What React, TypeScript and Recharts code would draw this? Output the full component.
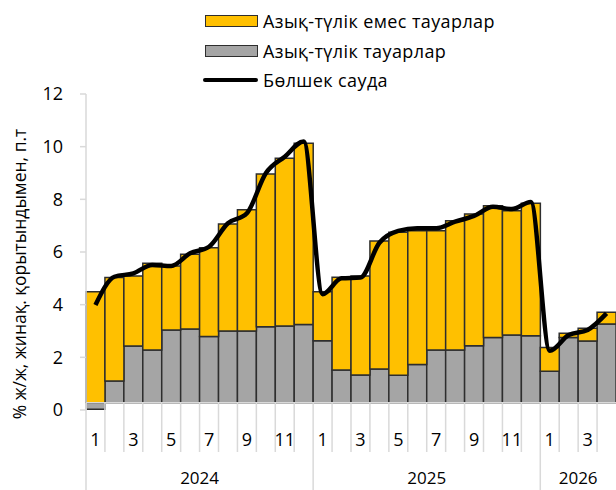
import React from 'react';
import {
  Bar,
  BarChart,
  Line,
  ReferenceLine,
  XAxis,
  YAxis,
} from 'recharts';

const months = [
  1, 2, 3, 4, 5, 6, 7, 8, 9, 10, 11, 12,
  1, 2, 3, 4, 5, 6, 7, 8, 9, 10, 11, 12,
  1, 2, 3, 4,
];
const years = [
  2024, 2024, 2024, 2024, 2024, 2024, 2024, 2024, 2024, 2024, 2024, 2024,
  2025, 2025, 2025, 2025, 2025, 2025, 2025, 2025, 2025, 2025, 2025, 2025,
  2026, 2026, 2026, 2026,
];
// Азық-түлік тауарлар
const food = [
  0.03, 1.1, 2.43, 2.28, 3.04, 3.08, 2.79, 3.0, 3.0, 3.16, 3.19, 3.25,
  2.63, 1.52, 1.33, 1.56, 1.32, 1.73, 2.28, 2.28, 2.44, 2.75, 2.85, 2.82,
  1.47, 2.75, 2.62, 3.27,
];
// Азық-түлік емес тауарлар
const nonFood = [
  4.46, 3.93, 2.66, 3.29, 2.43, 2.83, 3.37, 4.06, 4.6, 5.8, 6.37, 6.88,
  1.86, 3.52, 3.76, 4.86, 5.43, 5.08, 4.53, 4.91, 5.0, 5.01, 4.72, 5.03,
  0.9, 0.16, 0.48, 0.44,
];
// Бөлшек сауда
const retail = [
  3.99, 5.06, 5.19, 5.51, 5.47, 5.95, 6.2, 7.09, 7.47, 8.99, 9.62, 10.2,
  4.4, 5.0, 5.03, 6.35, 6.8, 6.9, 6.9, 7.15, 7.37, 7.72, 7.63, 7.9,
  2.25, 2.85, 3.04, 3.67,
];
const yTicks = [0, 2, 4, 6, 8, 10, 12];

// horizontal axis crosses a bit above zero in the source chart
const CROSS = 0.28;

const data = months.map((m, i) => ({
  key: `${years[i]}-${m}`,
  month: m,
  year: years[i],
  foodRange: [CROSS, food[i]],
  nonFoodRange: [Math.max(food[i], CROSS), food[i] + nonFood[i]],
  retail: retail[i],
}));

const W = 616;
const H = 490;
const PLOT_LEFT = 86;
const BAND = (W - PLOT_LEFT) / data.length;
const FONT = '"Open Sans", sans-serif';
const ORANGE = '#FFC000';
const GREY = '#A5A5A5';
const EDGE = '#2E2E2E';
const AXIS = '#D9D9D9';

function MonthTick(props: any) {
  const { x, index } = props;
  const d = data[index];
  if (!d) return null;
  const left = x - BAND / 2;
  const yearStart = index === 0 || data[index - 1].year !== d.year;
  const count = data.filter((p) => p.year === d.year).length;
  return (
    <g>
      <line
        x1={left}
        x2={left}
        y1={403}
        y2={yearStart ? 490 : 452}
        stroke={AXIS}
        strokeWidth={1.5}
      />
      {d.month % 2 === 1 && (
        <text
          x={x}
          y={439}
          textAnchor="middle"
          dominantBaseline="central"
          fontSize={18}
          fontFamily={FONT}
          fill="#000"
        >
          {d.month}
        </text>
      )}
      {yearStart && (
        <text
          x={left + (count * BAND) / 2}
          y={477}
          textAnchor="middle"
          dominantBaseline="central"
          fontSize={17}
          fontFamily={FONT}
          fill="#000"
        >
          {d.year}
        </text>
      )}
    </g>
  );
}

function LegendBox() {
  const row = (top: number, swatch: React.ReactNode, label: string) => (
    <div
      style={{
        position: 'absolute',
        left: 203,
        top,
        height: 24,
        display: 'flex',
        alignItems: 'center',
        whiteSpace: 'nowrap',
      }}
    >
      {swatch}
      <span
        style={{
          marginLeft: 5,
          fontSize: 18,
          letterSpacing: 0.4,
          fontFamily: FONT,
          color: '#000',
        }}
      >
        {label}
      </span>
    </div>
  );
  const box = (fill: string) => (
    <div
      style={{
        width: 51,
        height: 10,
        background: fill,
        border: `1.5px solid ${EDGE}`,
        marginLeft: 2,
      }}
    />
  );
  return (
    <>
      {row(9, box(ORANGE), 'Азық-түлік емес тауарлар')}
      {row(39, box(GREY), 'Азық-түлік тауарлар')}
      {row(68, <div style={{ width: 55, height: 4, background: '#000', borderRadius: 2 }} />, 'Бөлшек сауда')}
    </>
  );
}

export default function App() {
  return (
    <div style={{ position: 'absolute', left: 0, top: 0, width: W, height: H, background: '#fff' }}>
      <BarChart
        width={W}
        height={H}
        data={data}
        margin={{ top: 94, right: 0, left: 26, bottom: 0 }}
        barCategoryGap={0}
        barGap={0}
      >
        <XAxis
          xAxisId="main"
          dataKey="key"
          height={80}
          interval={0}
          axisLine={false}
          tickLine={false}
          tick={(p: any) => <MonthTick {...p} />}
        />
        <XAxis xAxisId="over" dataKey="key" hide />
        <YAxis
          domain={[0, 12]}
          ticks={yTicks}
          width={60}
          axisLine={{ stroke: AXIS, strokeWidth: 1.5 }}
          tickLine={{ stroke: AXIS, strokeWidth: 1.5 }}
          tickSize={6}
          tickMargin={17}
          tick={{ fill: '#000', fontSize: 18, fontFamily: FONT }}
          label={{
            value: '% ж/ж, жинақ. қорытындымен, п.т',
            angle: -90,
            position: 'insideLeft',
            offset: -6,
            dy: 22,
            style: { textAnchor: 'middle', fontSize: 17.5, fontFamily: FONT, fill: '#000' },
          }}
        />
        <ReferenceLine xAxisId="main" y={CROSS} stroke={AXIS} strokeWidth={1.5} />
        <Bar
          xAxisId="main"
          dataKey="foodRange"
          fill={GREY}
          stroke={EDGE}
          strokeWidth={1.5}
          isAnimationActive={false}
        />
        <Bar
          xAxisId="over"
          dataKey="nonFoodRange"
          fill={ORANGE}
          stroke={EDGE}
          strokeWidth={1.5}
          isAnimationActive={false}
        />
        <Line
          xAxisId="main"
          type="monotone"
          dataKey="retail"
          stroke="#000"
          strokeWidth={4.5}
          dot={false}
          isAnimationActive={false}
        />
      </BarChart>
      <LegendBox />
    </div>
  );
}
